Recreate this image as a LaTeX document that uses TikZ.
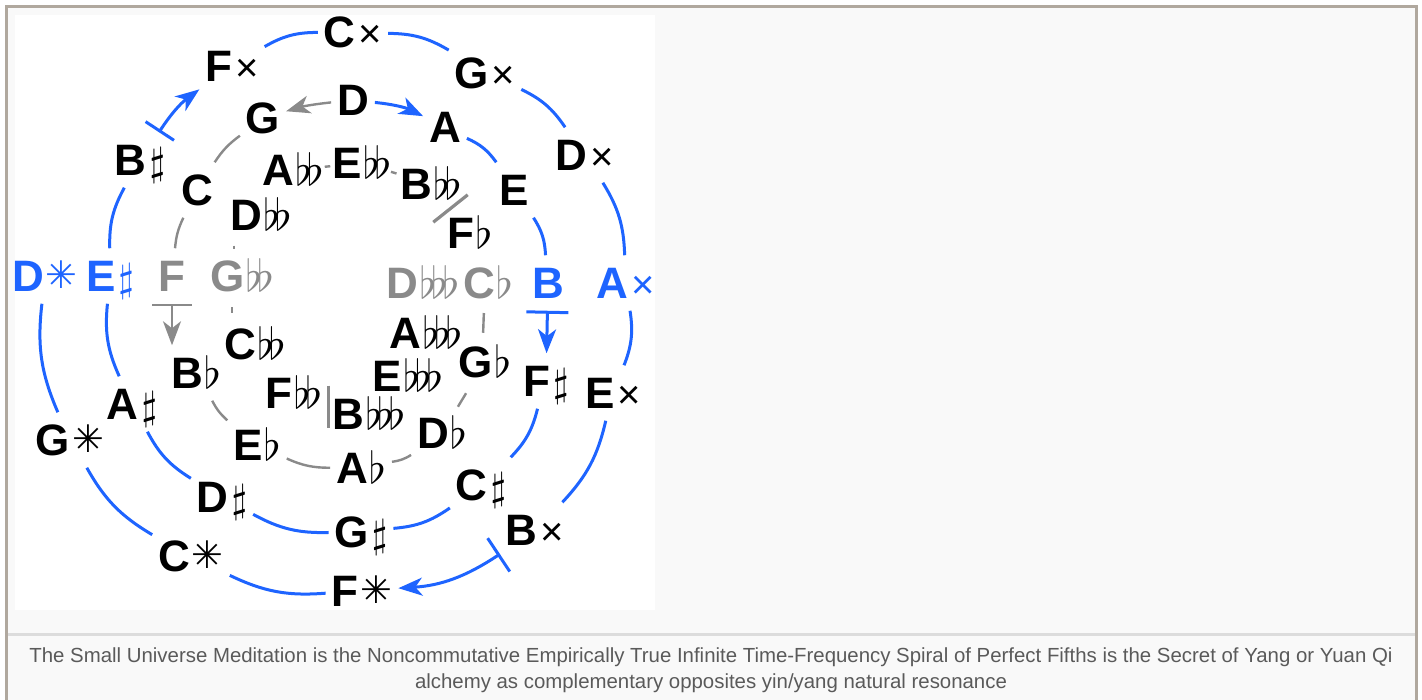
\documentclass[tikz,border=0pt]{standalone}
\usepackage{graphicx}
\usepackage{fontspec}
\setmainfont{Liberation Sans}
\newfontfamily\djv{DejaVu Sans}
\usetikzlibrary{arrows.meta,calc}
\definecolor{bl}{RGB}{30,100,255}
\definecolor{gr}{RGB}{138,138,138}
\definecolor{framec}{RGB}{176,168,158}
\definecolor{bgc}{RGB}{249,249,249}
\definecolor{sepc}{RGB}{220,220,220}
\definecolor{capc}{RGB}{90,90,90}
\newcommand{\acfl}{{\fontsize{10}{10}\selectfont\kern0.5pt\scalebox{2.2}{$\flat$}}}
\newcommand{\acff}{{\fontsize{10}{10}\selectfont\kern0.5pt\scalebox{2.2}{$\flat\mkern-2.3mu\flat$}}}
\newcommand{\acfff}{{\fontsize{10}{10}\selectfont\kern0.5pt\scalebox{2.2}{$\flat\mkern-2.3mu\flat\mkern-2.3mu\flat$}}}
\newcommand{\acsh}{{\fontsize{10}{10}\selectfont\kern1.5pt\scalebox{2}{$\sharp$}}}
\newcommand{\acdx}{{\mdseries\fontsize{20}{20}\selectfont\kern1.5pt ×}}
\newcommand{\actx}{{\djv\mdseries\fontsize{19}{19}\selectfont\kern1pt\raisebox{1.5pt}{✳}}}
\begin{document}
\begin{tikzpicture}[x=0.5pt,y=-0.5pt,
  lbl/.style={font=\fontsize{22}{22}\selectfont\bfseries, text height=15.75pt, text depth=0pt, inner sep=0pt, outer xsep=3pt, outer ysep=6pt},
  lk/.style={lbl,text=black}, lb/.style={lbl,text=bl}, lg/.style={lbl,text=gr},
  barc/.style={draw=bl,line width=1.5pt},
  garc/.style={draw=gr,line width=1.2pt},
  tip/.style={-{Stealth[length=12pt,width=9pt,inset=3.5pt]}},
  bartip/.style={{Bar[width=#1]}-{Stealth[length=12pt,width=9pt,inset=3.5pt]}},
]
\useasboundingbox (0,0) rectangle (1422,700);
\fill[white] (0,0) rectangle (1422,700);
\fill[bgc] (7,7) rectangle (1416,700);
\draw[framec,line width=1.5pt] (6.5,700) -- (6.5,6.5) -- (1416.5,6.5) -- (1416.5,700);
\fill[white] (15,15) rectangle (655,610);
\draw[sepc,line width=1.5pt] (8,634.5) -- (1415,634.5);

% outer ring
\node[lk] (Fx) at (232,66) {F\acdx};
\node[lk] (Cx) at (353,32) {C\acdx};
\node[lk] (Gx) at (485,73) {G\acdx};
\node[lk] (Dx) at (585,155) {D\acdx};
\node[lb] (Ax) at (626,283) {A\acdx};
\node[lk] (Ex) at (613,393) {E\acdx};
\node[lk] (Bx) at (535,530) {B\acdx};
\node[lk] (Ft) at (362,591) {F\actx};
\node[lk] (Ct) at (191,556) {C\actx};
\node[lk] (Gt) at (70,440) {G\actx};
\node[lb] (Dt) at (45,276) {D\actx};
% middle ring
\node[lk] (D) at (353,100) {D};
\node[lk] (A) at (445,127) {A};
\node[lk] (E) at (514,190) {E};
\node[lb] (B) at (548,283) {B};
\node[lk] (Fs) at (546,381) {F\acsh};
\node[lk] (Cs) at (481,485) {C\acsh};
\node[lk] (Gs) at (361,532) {G\acsh};
\node[lk] (Ds) at (222,497) {D\acsh};
\node[lk] (As) at (132,404) {A\acsh};
\node[lb] (Es) at (110,276) {E\acsh};
\node[lk] (Bs) at (140,160) {B\acsh};
% inner spiral
\node[lk] (G) at (263,118) {G};
\node[lk] (C) at (197,190) {C};
\node[lg] (F) at (172,276) {F};
\node[lk] (Bf) at (196,373) {B\acfl};
\node[lk] (Ef) at (257,445) {E\acfl};
\node[lk] (Af) at (361,468) {A\acfl};
\node[lk] (Df) at (442,433) {D\acfl};
\node[lk] (Gf) at (485,362) {G\acfl};
\node[lg] (Cf) at (488,283) {C\acfl};
\node[lk] (Ff) at (470,233) {F\acfl};
\node[lk] (Bff) at (431,184) {B\acff};
\node[lk] (Eff) at (362,163) {E\acff};
\node[lk] (Aff) at (293,170) {A\acff};
\node[lk] (Dff) at (261,215) {D\acff};
\node[lg] (Gff) at (242,276) {G\acff};
\node[lk] (Cff) at (255,344) {C\acff};
\node[lk] (Fff) at (294,393) {F\acff};
\node[lk] (Bfff) at (369,414) {B\acfff};
\node[lk] (Efff) at (408,376) {E\acfff};
\node[lk] (Afff) at (426,333) {A\acfff};
\node[lg] (Dfff) at (423,283) {D\acfff};

% blue spiral
\draw[barc,tip] (D) to[bend left=10] (A);
\draw[barc] (A) to[bend left=15] (E);
\draw[barc] (E) to[bend left=15] (B);
\draw[barc,bartip=21pt] (B) -- (Fs);
\draw[barc] (Fs) to[bend left=15] (Cs);
\draw[barc] (Cs) to[bend left=15] (Gs);
\draw[barc] (Gs) to[bend left=15] (Ds);
\draw[barc] (Ds) to[bend left=15] (As);
\draw[barc] (As) to[bend left=15] (Es);
\draw[barc] (Es) to[bend left=15] (Bs);
\draw[barc,bartip=17pt] (Bs) to[bend left=10] (Fx);
\draw[barc] (Fx) to[bend left=15] (Cx);
\draw[barc] (Cx) to[bend left=15] (Gx);
\draw[barc] (Gx) to[bend left=15] (Dx);
\draw[barc] (Dx) to[bend left=15] (Ax);
\draw[barc] (Ax) to[bend left=15] (Ex);
\draw[barc] (Ex) to[bend left=15] (Bx);
\draw[barc,bartip=20pt] (Bx) to[bend left=15] (Ft);
\draw[barc] (Ft) to[bend left=15] (Ct);
\draw[barc] (Ct) to[bend left=15] (Gt);
\draw[barc] (Gt) to[bend left=15] (Dt);

% gray spiral
\draw[garc,tip] (D) to[bend right=5] (G);
\draw[garc] (G) to[bend right=10] (C);
\draw[garc] (C) to[bend right=10] (F);
\draw[garc,bartip=20pt] (F) -- (F |- Bf.north);
\draw[garc] (Bf) to[bend right=10] (Ef);
\draw[garc] (Ef) to[bend right=12] (Af);
\draw[garc] (Af) to[bend right=12] (Df);
\draw[garc] ($(Df)!0.37!(Gf)$) -- ($(Df)!0.56!(Gf)$);
\draw[garc] ($(Gf)!0.37!(Cf)+(-3,0)$) -- ($(Gf)!0.62!(Cf)+(-3,0)$);
\draw[garc,line width=1.6pt] ($(Bff)!0.5!(Ff)!11pt!90:(Ff)$) -- ($(Bff)!0.5!(Ff)!11pt!-90:(Ff)$);
\draw[garc] ($(Eff)!0.42!(Bff)$) -- ($(Eff)!0.50!(Bff)$);
\draw[garc] ($(Aff)!0.46!(Eff)$) -- ($(Aff)!0.54!(Eff)$);
\draw[garc] ($(Dff)!0.52!(Gff)+(-17,-1)$) -- ++(0,3);
\draw[garc] ($(Gff)!0.46!(Cff)+(-16,0)$) -- ++(0,6);
\draw[garc] ($(Fff)!0.5!(Bfff)+(-3,-18)$) -- ++(0,42);

% caption
\node[font=\fontsize{10.2}{13}\selectfont, text=capc, align=center] (cap) at (711,670)
  {The Small Universe Meditation is the Noncommutative Empirically True Infinite Time-Frequency Spiral of Perfect Fifths is the Secret of Yang or Yuan Qi\\alchemy as complementary opposites yin/yang natural resonance};
\end{tikzpicture}
\end{document}
